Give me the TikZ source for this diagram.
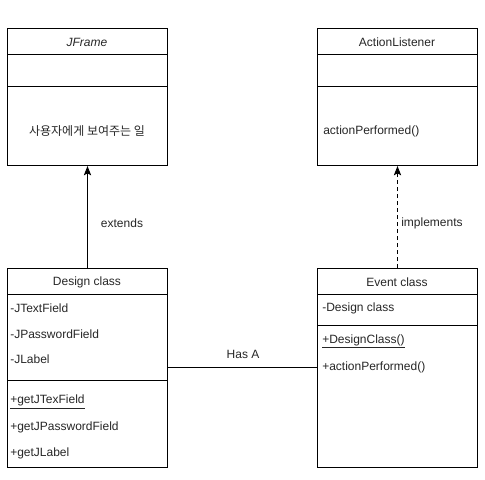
\documentclass[tikz,border=0pt]{standalone}
\usepackage{fontspec}
\setmainfont{Liberation Sans}
\newfontfamily\krfont{Noto Sans CJK KR}
\usetikzlibrary{arrows.meta}
\newcommand{\ul}[1]{\underline{#1}}
\begin{document}
\begin{tikzpicture}[x=0.75pt,y=-0.75pt,
  every node/.style={font=\fontsize{9}{11}\selectfont, text=black!85},
  classbox/.style={draw, line width=0.75pt, inner sep=0pt, anchor=north west, minimum width=120pt},
  title/.style={inner sep=0pt, anchor=center},
  member/.style={inner sep=0pt, anchor=west},
  sep/.style={line width=0.75pt},
  link/.style={line width=0.75pt},
  tip/.style={-{Stealth[length=7pt,width=5.5pt,inset=1.5pt]}}
]
\useasboundingbox (0,0) rectangle (485,479);

% interface and superclass boxes
\node[classbox, minimum height=102.75pt] (jframe) at (7,28) {};
\node[classbox, minimum height=102.75pt] (listener) at (317,28) {};
% application classes
\node[classbox, minimum height=148.9pt] (design) at (7,268) {};
\node[classbox, minimum height=148.9pt] (event) at (317,268) {};

% compartments
\draw[sep] (7,54) -- (167,54);
\draw[sep] (7,86) -- (167,86);
\draw[sep] (317,54) -- (477,54);
\draw[sep] (317,86) -- (477,86);
\draw[sep] (7,294) -- (167,294);
\draw[sep] (7,380) -- (167,380);
\draw[sep] (317,294) -- (477,294);
\draw[sep] (317,325) -- (477,325);

% JFrame
\node[title] (jframeT) at (87,42) {\itshape JFrame};
\node[title] (jframeM) at (87,131) {\krfont 사용자에게 보여주는 일};

% ActionListener
\node[title] (listenerT) at (397,42) {ActionListener};
\node[member] (listenerM) at (323,131) {actionPerformed()};

% Design class
\node[title] (designT) at (87,282) {Design class};
\node[member] (d1) at (10,308.5) {-JTextField};
\node[member] (d2) at (10,334) {-JPasswordField};
\node[member] (d3) at (10,359.5) {-JLabel};
\node[member] (d4) at (10,402) {\ul{+getJTexField}};
\node[member] (d5) at (10,427.5) {+getJPasswordField};
\node[member] (d6) at (10,453.5) {+getJLabel};

% Event class
\node[title] (eventT) at (397,282) {Event class};
\node[member] (e1) at (322,308.5) {-Design class};
\node[member] (e2) at (322,341.5) {\ul{+DesignClass()}};
\node[member] (e3) at (322,367.5) {+actionPerformed()};

% relations
\draw[link, tip] (design.north) -- (jframe.south);
\draw[link, tip, dash pattern=on 3pt off 2.25pt] (event.north) -- (listener.south);
\draw[link] (design.east) -- (event.west);

\node[title] (extendsL) at (122,223) {extends};
\node[title] (implL) at (432,223) {implements};
\node[title] (hasL) at (243,354) {Has A};
\end{tikzpicture}
\end{document}
